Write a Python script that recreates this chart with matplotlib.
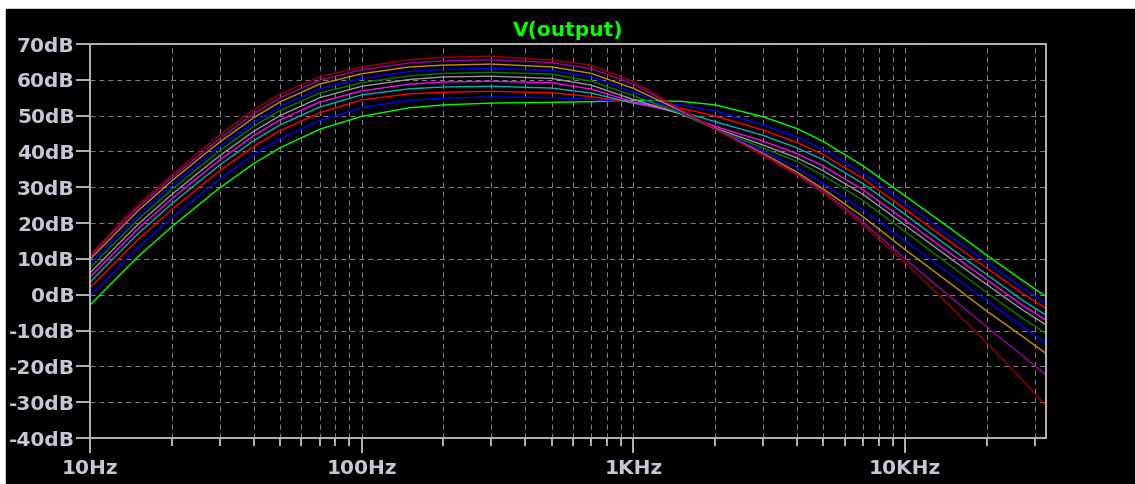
import matplotlib.pyplot as plt
from matplotlib.patches import Rectangle
from matplotlib.ticker import FixedLocator, LogLocator, NullFormatter

# frequency points (Hz) where the traces were read
freqs = [10, 12, 15, 20, 25, 30, 40, 50, 70, 100, 150, 200, 300, 500, 700, 1000,
         1500, 2000, 3000, 4000, 5000, 7000, 10000, 15000, 20000, 27000, 33000]

# magnitude of V(output) in dB, one list per step (bottom to top at the peak)
step_green = [-2.9, 3.2, 10.6, 19.0, 25.0, 29.8, 36.6, 41.0, 46.2, 49.8, 52.2, 53.0, 53.5, 53.7, 53.9, 54.3,
              54.0, 53.0, 49.7, 46.4, 42.8, 36.0, 27.6, 18.0, 11.0, 4.0, -0.5]
step_blue = [-0.4, 5.7, 13.1, 21.5, 27.5, 32.3, 39.1, 43.5, 48.6, 52.3, 54.3, 54.9, 55.2, 55.1, 54.5, 53.8,
             53.0, 51.3, 47.4, 44.0, 40.6, 33.9, 25.5, 15.8, 9.0, 1.9, -2.4]
step_red = [1.9, 8.0, 15.4, 23.8, 29.8, 34.6, 41.4, 45.8, 50.8, 54.4, 56.1, 56.5, 56.8, 56.4, 55.3, 53.6,
            52.1, 49.9, 46.0, 42.5, 39.1, 32.4, 23.9, 14.2, 7.4, 0.4, -3.8]
step_cyan = [3.5, 9.6, 17.0, 25.4, 31.4, 36.2, 43.0, 47.4, 52.4, 55.8, 57.5, 58.0, 58.2, 57.7, 56.3, 53.5,
             51.1, 48.3, 44.5, 41.0, 37.7, 31.0, 22.4, 12.5, 5.6, -1.5, -5.7]
step_magenta = [4.9, 11.0, 18.4, 26.8, 32.8, 37.6, 44.4, 48.8, 53.8, 56.9, 58.8, 59.4, 59.6, 59.2, 57.4, 53.8,
                50.6, 47.0, 42.9, 39.4, 35.9, 29.3, 20.8, 11.0, 4.2, -2.9, -7.1]
step_gray = [6.1, 12.2, 19.6, 28.0, 34.0, 38.8, 45.6, 50.0, 55.0, 58.2, 60.1, 60.8, 61.0, 60.4, 58.5, 54.5,
             50.4, 46.5, 41.8, 38.2, 34.6, 28.0, 19.4, 9.6, 2.8, -4.2, -8.4]
step_dkgreen = [7.5, 13.6, 21.0, 29.4, 35.4, 40.2, 47.0, 51.4, 56.3, 59.2, 61.1, 61.8, 62.1, 61.6, 59.6, 55.6,
                50.6, 46.2, 41.0, 37.2, 33.3, 26.3, 17.6, 7.6, 0.6, -6.5, -10.8]
step_blue2 = [8.6, 14.7, 22.1, 30.5, 36.5, 41.3, 48.1, 52.5, 57.5, 60.4, 62.3, 62.9, 63.2, 62.6, 60.8, 56.6,
              51.0, 46.2, 40.2, 35.5, 31.0, 23.7, 15.0, 5.2, -1.7, -8.8, -13.6]
step_orange = [9.9, 16.0, 23.4, 31.8, 37.8, 42.6, 49.4, 53.8, 58.8, 61.7, 63.6, 64.1, 64.4, 63.6, 61.8, 57.6,
               51.3, 46.2, 39.5, 34.2, 29.5, 21.8, 12.6, 2.6, -4.6, -11.6, -16.4]
step_purple = [10.6, 16.9, 24.3, 32.7, 38.7, 43.6, 50.6, 55.0, 59.9, 62.8, 64.7, 65.3, 65.6, 64.8, 63.1, 58.8,
               51.5, 46.2, 39.2, 33.7, 29.0, 20.3, 10.0, -1.2, -9.0, -17.0, -22.4]
step_dkred = [11.0, 17.5, 25.0, 33.4, 39.6, 44.6, 51.6, 56.0, 60.8, 63.6, 65.6, 66.3, 66.6, 65.5, 64.1, 59.5,
              51.8, 46.3, 38.8, 33.4, 28.5, 19.5, 9.0, -4.0, -13.5, -23.8, -31.0]

traces = [step_green, step_blue, step_red, step_cyan, step_magenta, step_gray,
          step_dkgreen, step_blue2, step_orange, step_purple, step_dkred]
colors = ['#00ff00', '#0000ff', '#ff0000', '#00b4b4', '#ff00ff', '#999999',
          '#008000', '#0000ff', '#c89000', '#a000a0', '#a00000']

y_ticks = [70, 60, 50, 40, 30, 20, 10, 0, -10, -20, -30, -40]
x_ticks = [10, 100, 1000, 10000]
x_labels = ['10Hz', '100Hz', '1KHz', '10KHz']

W, H = 1135, 484
fig = plt.figure(figsize=(W / 100, H / 100), dpi=100, facecolor='white')
fig.patches.append(Rectangle((6 / W, 0), 1, (H - 9) / H, transform=fig.transFigure,
                             color='black', zorder=-10))

ax = fig.add_axes([90 / W, (H - 438) / H, (1046 - 90) / W, (438 - 44) / H])
ax.set_facecolor('black')

for vals, c in zip(traces, colors):
    ax.plot(freqs, vals, color=c, lw=1.0)

ax.set_xscale('log')
ax.set_xlim(10, 33000)
ax.set_ylim(-40, 70)

ax.xaxis.set_major_locator(FixedLocator(x_ticks))
ax.set_xticklabels(x_labels)
ax.xaxis.set_minor_locator(LogLocator(base=10, subs=range(2, 10), numticks=20))
ax.xaxis.set_minor_formatter(NullFormatter())
ax.set_yticks(y_ticks)
ax.set_yticklabels([f'{v}dB' for v in y_ticks])

lbl = '#c4c8d4'
ax.tick_params(axis='x', which='major', length=11, width=1.4, color='#b4b4b4',
               labelsize=14.5, labelcolor=lbl, pad=4)
ax.tick_params(axis='x', which='minor', length=6, width=1.4, color='#b4b4b4')
ax.tick_params(axis='y', which='major', length=10, width=1.4, color='#b4b4b4',
               labelsize=14.5, labelcolor=lbl, pad=1)
for t in ax.get_xticklabels() + ax.get_yticklabels():
    t.set_family('DejaVu Sans')
    t.set_fontweight('bold')

for s in ax.spines.values():
    s.set_color('#b4b4b4')
    s.set_linewidth(1.4)

ax.grid(True, which='both', axis='x', color='#808080', lw=0.75, linestyle=(0, (4.8, 3.8)))
ax.grid(True, which='major', axis='y', color='#808080', lw=0.75, linestyle=(0, (4.8, 3.8)))
ax.set_axisbelow(True)

ax.set_title('V(output)', color='#00ff00', fontsize=14.5, fontweight='bold',
             family='DejaVu Sans', pad=6)

fig.savefig('out.png', dpi=100, facecolor=fig.get_facecolor())
